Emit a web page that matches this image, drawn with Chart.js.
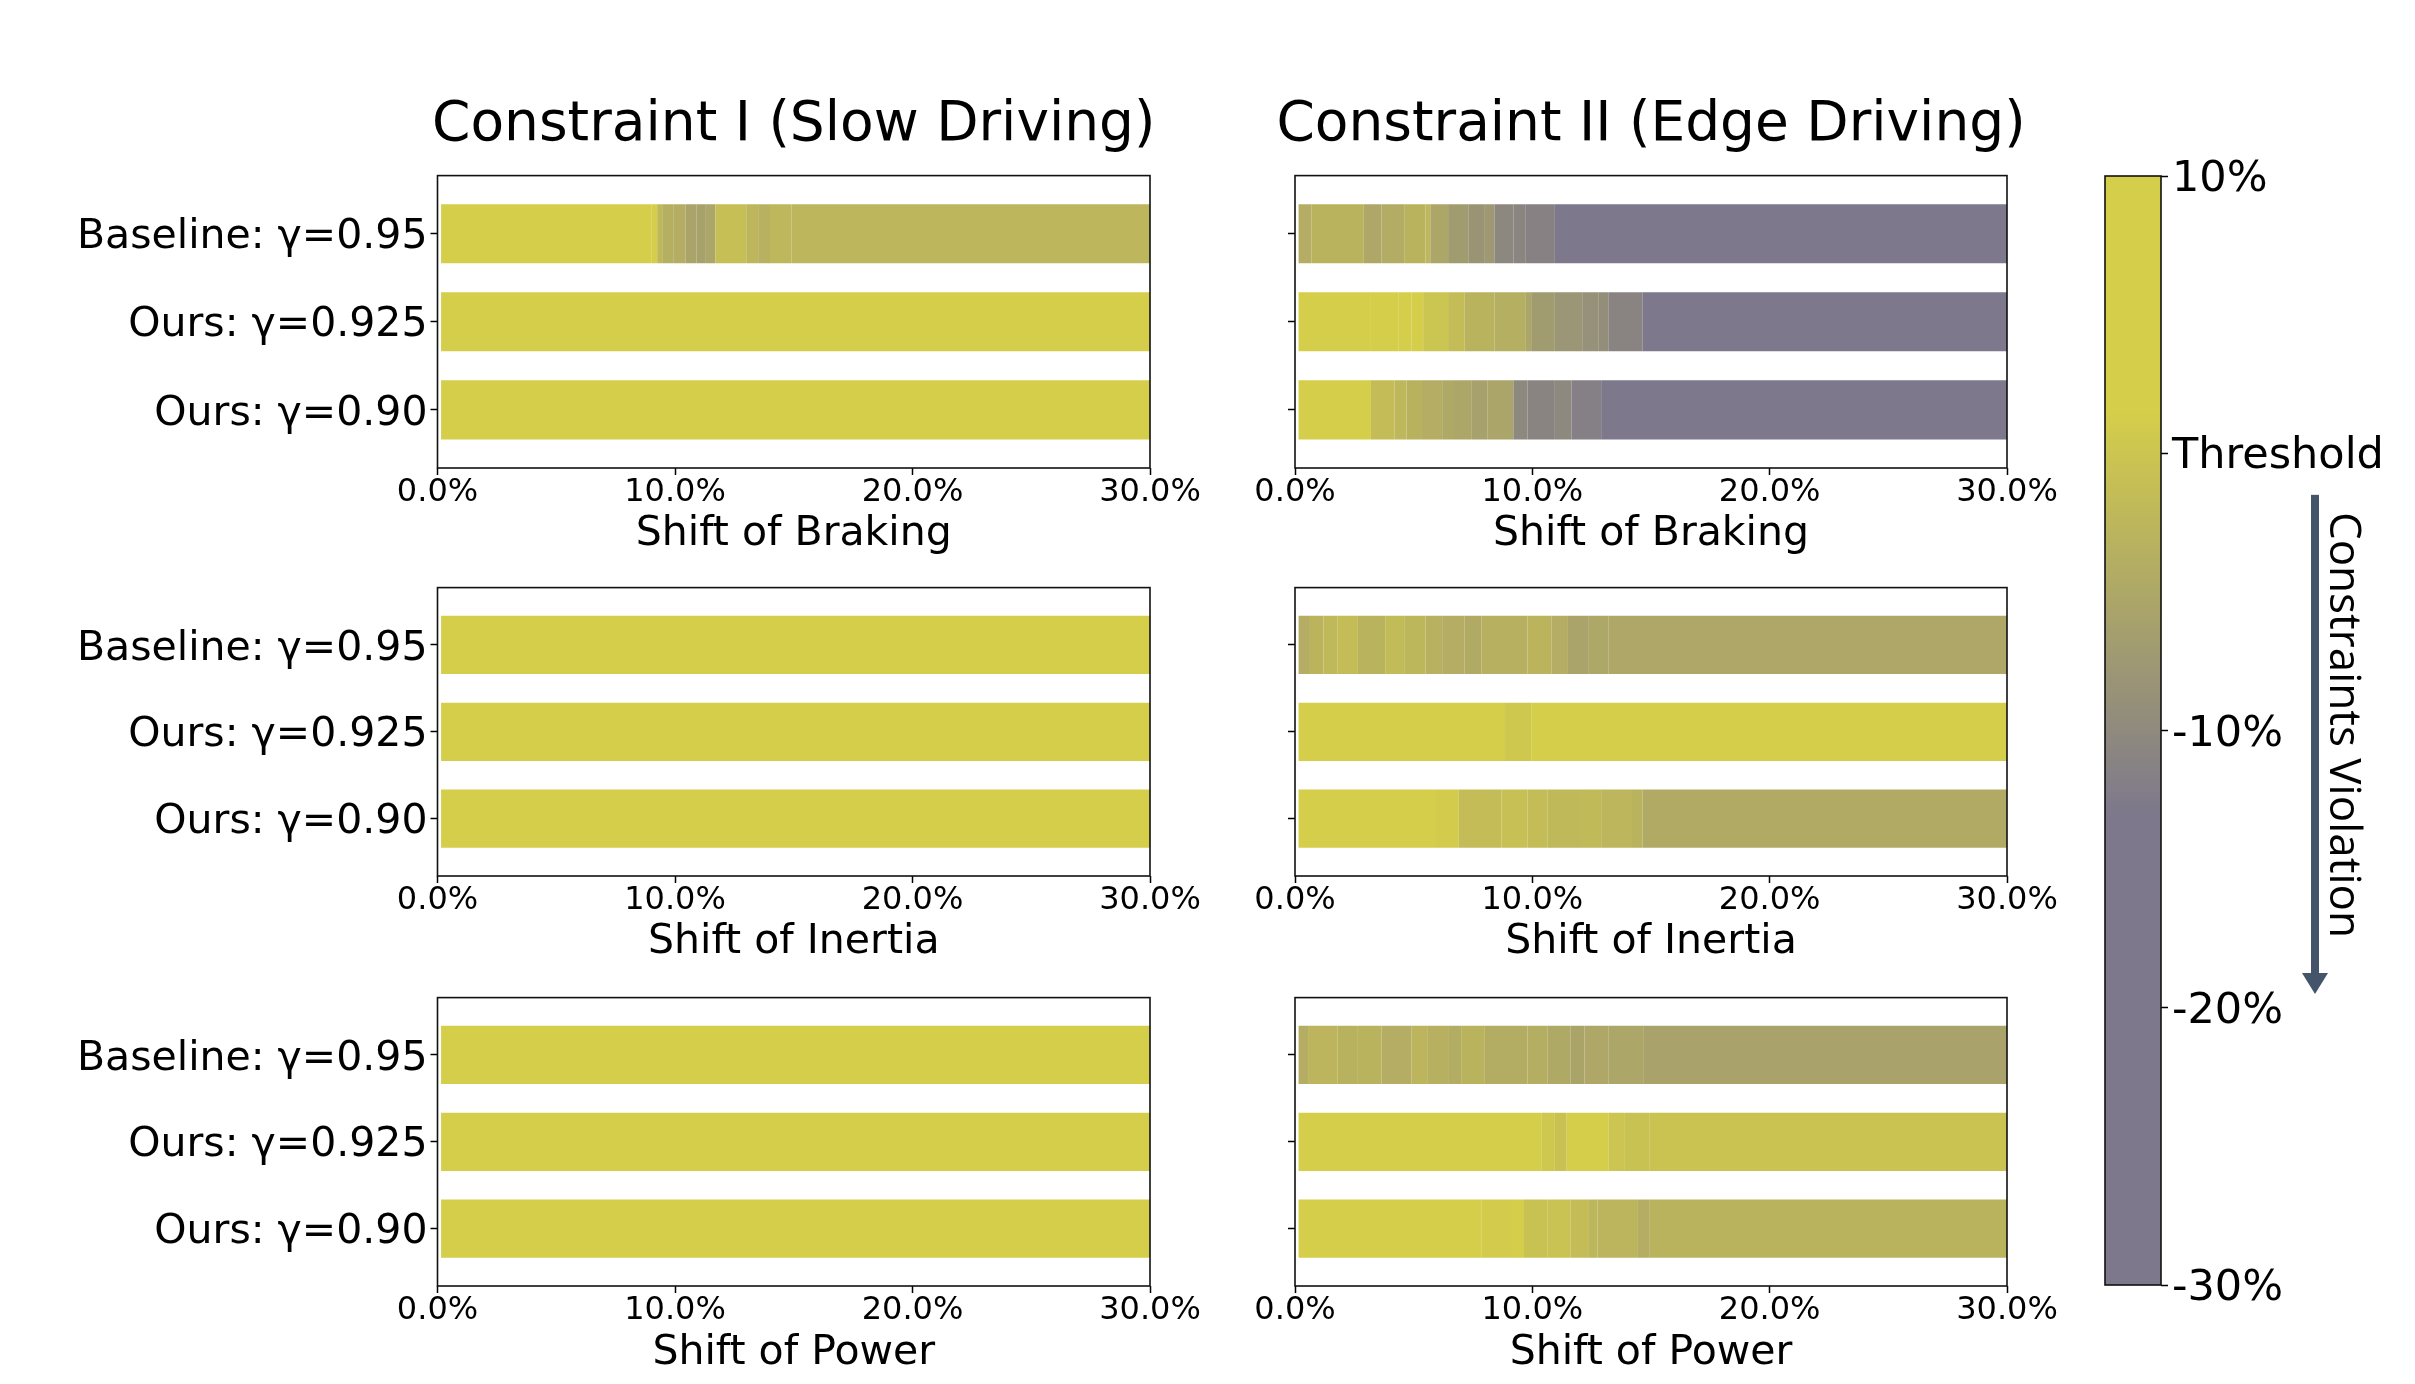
<!DOCTYPE html>
<html>
<head>
<meta charset="utf-8">
<script src="https://cdn.jsdelivr.net/npm/chart.js@4"></script>
<style>
  html, body { margin: 0; padding: 0; background: #fff; }
  body { width: 2415px; height: 1384px; position: relative; overflow: hidden; }
  canvas { position: absolute; }
</style>
</head>
<body>
<canvas id="slowBraking" width="1220" height="560" style="left:0;top:0"></canvas>
<canvas id="edgeBraking" width="850" height="560" style="left:1220px;top:0"></canvas>
<canvas id="slowInertia" width="1220" height="410" style="left:0;top:560px"></canvas>
<canvas id="edgeInertia" width="850" height="410" style="left:1220px;top:560px"></canvas>
<canvas id="slowPower" width="1220" height="414" style="left:0;top:970px"></canvas>
<canvas id="edgePower" width="850" height="414" style="left:1220px;top:970px"></canvas>
<canvas id="colorbar" width="355" height="1384" style="left:2060px;top:0"></canvas>
<script>
// Row labels (top to bottom) and shift ticks
const rowLabels = ['Baseline: γ=0.95', 'Ours: γ=0.925', 'Ours: γ=0.90'];
const shiftTicks = [0, 10, 20, 30];
const colorbarTicks = [10, 0, -10, -20, -30];
const colorbarLabels = ['10%', 'Threshold', '-10%', '-20%', '-30%'];

// Each row: [shiftFrom, shiftTo, violation %] segments
const slowBraking = [
  [[0.15, 9, 4], [9, 9.25, 3], [9.25, 9.46, -2.2], [9.46, 9.95, -3.7], [9.95, 10.45, -4], [10.45, 10.9, -5.6],
   [10.9, 11.3, -6], [11.3, 11.7, -5.3], [11.7, 13, -1], [13, 13.5, -2.5], [13.5, 14, -3.3], [14, 14.9, -2.3], [14.9, 30, -2.5]],
  [[0.15, 30, 4]],
  [[0.15, 30, 4]]
];
const edgeBraking = [
  [[0.15, 0.7, -4], [0.7, 2.9, -3], [2.9, 3.65, -5], [3.65, 4.6, -4.3], [4.6, 5.5, -3], [5.5, 5.7, -2.3], [5.7, 6.45, -5.3],
   [6.45, 7.3, -7], [7.3, 8, -8.2], [8, 8.4, -7.6], [8.4, 9.2, -10.3], [9.2, 9.7, -10.8], [9.7, 10.95, -11.4], [10.95, 30, -16]],
  [[0.15, 3.2, 4], [3.2, 4.35, 2], [4.35, 4.9, 1.5], [4.9, 5.4, 4], [5.4, 6.45, -0.1], [6.45, 7.15, -1.5], [7.15, 8.4, -3],
   [8.4, 9.7, -3.8], [9.7, 9.95, -5.2], [9.95, 10.95, -7], [10.95, 12.1, -8], [12.1, 12.8, -8.8], [12.8, 13.2, -9.3],
   [13.2, 14.65, -11], [14.65, 30, -16]],
  [[0.15, 3.2, 4], [3.2, 4.2, -1.3], [4.2, 4.7, -2.3], [4.7, 5.35, -3.2], [5.35, 6.2, -4], [6.2, 6.7, -4.8], [6.7, 7.45, -5.2],
   [7.45, 8.1, -6], [8.1, 9.2, -5.4], [9.2, 9.8, -10.2], [9.8, 10.95, -11], [10.95, 11.65, -10.2], [11.65, 12.9, -11.6], [12.9, 30, -16]]
];
const slowInertia = [
  [[0.15, 30, 4]],
  [[0.15, 30, 4]],
  [[0.15, 30, 4]]
];
const edgeInertia = [
  [[0.15, 0.63, -4], [0.63, 1.2, -2.8], [1.2, 1.8, -2], [1.8, 2.65, -1.5], [2.65, 3.8, -3], [3.8, 4.6, -1.6], [4.6, 5.5, -2.4],
   [5.5, 6.2, -3.4], [6.2, 7.15, -4], [7.15, 7.85, -4.6], [7.85, 9.8, -3.5], [9.8, 10.8, -2.8], [10.8, 11.5, -4],
   [11.5, 12.35, -5.6], [12.35, 13.2, -5.1], [13.2, 30, -5]],
  [[0.15, 8.85, 4], [8.85, 9.95, 0.5], [9.95, 30, 4]],
  [[0.15, 5.9, 4], [5.9, 6.9, 1], [6.9, 8.7, -1.3], [8.7, 9.8, -0.9], [9.8, 10.65, -1.3], [10.65, 12.05, -2.1],
   [12.05, 12.9, -1.9], [12.9, 14.2, -2.5], [14.2, 14.65, -3], [14.65, 30, -4.5]]
];
const slowPower = [
  [[0.15, 30, 4]],
  [[0.15, 30, 4]],
  [[0.15, 30, 4]]
];
const edgePower = [
  [[0.15, 0.55, -4], [0.55, 1.8, -2.7], [1.8, 2.65, -3.2], [2.65, 3.65, -3], [3.65, 4.9, -4], [4.9, 5.6, -2.7], [5.6, 6.45, -3.5],
   [6.45, 7, -4.1], [7, 8, -3], [8, 9.8, -4.1], [9.8, 10.65, -3.9], [10.65, 11.6, -4.8], [11.6, 12.2, -5.5], [12.2, 13.2, -5],
   [13.2, 14.7, -5.3], [14.7, 30, -5.8]],
  [[0.15, 10.4, 4], [10.4, 10.95, 0.5], [10.95, 11.45, -0.5], [11.45, 13.2, 4], [13.2, 13.9, 0], [13.9, 14.95, -0.6], [14.95, 30, -0.3]],
  [[0.15, 7.85, 4], [7.85, 9.1, 1], [9.1, 9.65, 4], [9.65, 10.65, -0.6], [10.65, 11.6, -0.4], [11.6, 12.35, -1.3],
   [12.35, 12.75, -2.4], [12.75, 14.45, -2.7], [14.45, 14.95, -4], [14.95, 30, -3]]
];

// Colormap: yellow above ~1.5%, purple below ~-13%, linear in between
const YELLOW = [213, 206, 74];
const PURPLE = [125, 120, 139];
const CMAP_HI = 1.5;
const CMAP_LO = -13;

function colorFor(v) {
  let t = (CMAP_HI - v) / (CMAP_HI - CMAP_LO);
  t = Math.max(0, Math.min(1, t));
  const c = YELLOW.map((y, i) => Math.round(y + (PURPLE[i] - y) * t));
  return `rgb(${c[0]}, ${c[1]}, ${c[2]})`;
}

Chart.defaults.font.family = '"DejaVu Sans", sans-serif';
Chart.defaults.color = '#000';

// Black box around every plot area
const framePlugin = {
  id: 'frame',
  afterDatasetsDraw(chart) {
    const { ctx, chartArea: a } = chart;
    ctx.save();
    ctx.strokeStyle = '#111';
    ctx.lineWidth = 1.6;
    ctx.strokeRect(a.left, a.top, a.right - a.left, a.bottom - a.top);
    ctx.restore();
  }
};

// Column title centred over the plot area
const titlePlugin = {
  id: 'panelTitle',
  afterDraw(chart, args, opts) {
    if (!opts.text) return;
    const { ctx, chartArea: a } = chart;
    ctx.save();
    ctx.font = '55px "DejaVu Sans"';
    ctx.fillStyle = '#000';
    ctx.textAlign = 'center';
    ctx.textBaseline = 'middle';
    ctx.fillText(opts.text, (a.left + a.right) / 2, a.top - 50);
    ctx.restore();
  }
};

function initPanel(id, rows, o) {
  const canvas = document.getElementById(id);
  if (!canvas) return;

  const cells = [];
  rows.forEach((segments, row) => {
    segments.forEach(([from, to, v]) => cells.push({ x: [from, to], y: row, v: v }));
  });

  new Chart(canvas, {
    type: 'bar',
    data: {
      datasets: [{
        data: cells,
        backgroundColor: (c) => c.raw ? colorFor(c.raw.v) : colorFor(4),
        borderWidth: 0,
        barPercentage: 0.67,
        categoryPercentage: 1
      }]
    },
    options: {
      indexAxis: 'y',
      responsive: false,
      animation: false,
      layout: {
        padding: { left: 0, top: o.padTop, right: o.padRight, bottom: 0 }
      },
      plugins: {
        legend: { display: false },
        tooltip: { enabled: false },
        panelTitle: { text: o.title || '' }
      },
      scales: {
        x: {
          type: 'linear',
          min: 0,
          max: 30,
          afterBuildTicks: (s) => { s.ticks = shiftTicks.map(v => ({ value: v })); },
          afterFit: (s) => { s.height = o.xAxisH; },
          border: { display: false },
          grid: { drawOnChartArea: false, drawTicks: true, tickLength: 7, tickWidth: 1.5, tickColor: '#000' },
          ticks: {
            maxRotation: 0,
            autoSkip: false,
            padding: 2,
            font: { size: 32, lineHeight: 1 },
            callback: (v) => v.toFixed(1) + '%'
          },
          title: {
            display: true,
            text: o.xTitle,
            font: { size: 41, lineHeight: 1.2 },
            padding: { top: 0, bottom: o.xTitlePad }
          }
        },
        y: {
          type: 'linear',
          min: -0.66,
          max: 2.66,
          reverse: true,
          offset: false,
          afterBuildTicks: (s) => { s.ticks = rowLabels.map((l, i) => ({ value: i })); },
          afterFit: (s) => { s.width = o.yAxisW; },
          border: { display: false },
          grid: { offset: false, drawOnChartArea: false, drawTicks: true, tickLength: 7, tickWidth: 1.5, tickColor: '#000' },
          ticks: {
            padding: 3,
            labelOffset: 4,
            font: { size: 41 },
            callback: (v) => o.labels ? rowLabels[v] : ''
          }
        }
      }
    },
    plugins: [framePlugin, titlePlugin]
  });
}

// Colorbar with threshold ticks plus the "Constraints Violation" arrow
const violationPlugin = {
  id: 'violation',
  afterDraw(chart) {
    const { ctx, chartArea: a, scales: { y } } = chart;
    const ax = a.right + 154;
    const y0 = y.getPixelForValue(-1.5);
    const tip = y.getPixelForValue(-19.5);
    ctx.save();
    ctx.fillStyle = '#44546a';
    ctx.fillRect(ax - 4, y0, 8, tip - y0 - 20);
    ctx.beginPath();
    ctx.moveTo(ax - 13, tip - 21);
    ctx.lineTo(ax + 13, tip - 21);
    ctx.lineTo(ax, tip);
    ctx.closePath();
    ctx.fill();

    ctx.translate(a.right + 182, y.getPixelForValue(-9.8));
    ctx.rotate(Math.PI / 2);
    ctx.fillStyle = '#000';
    ctx.font = '44px "Open Sans"';
    ctx.textAlign = 'center';
    ctx.textBaseline = 'middle';
    ctx.fillText('Constraints Violation', 0, 0);
    ctx.restore();
  }
};

function initColorbar() {
  const canvas = document.getElementById('colorbar');
  if (!canvas) return;

  new Chart(canvas, {
    type: 'bar',
    data: {
      labels: [''],
      datasets: [{
        data: [[colorbarTicks[colorbarTicks.length - 1], colorbarTicks[0]]],
        backgroundColor: (c) => {
          const chart = c.chart;
          if (!chart.chartArea) return colorFor(4);
          const y = chart.scales.y;
          const top = y.getPixelForValue(colorbarTicks[0]);
          const bottom = y.getPixelForValue(colorbarTicks[colorbarTicks.length - 1]);
          const g = chart.ctx.createLinearGradient(0, top, 0, bottom);
          const span = colorbarTicks[0] - colorbarTicks[colorbarTicks.length - 1];
          g.addColorStop(0, colorFor(CMAP_HI));
          g.addColorStop((colorbarTicks[0] - CMAP_HI) / span, colorFor(CMAP_HI));
          g.addColorStop((colorbarTicks[0] - (CMAP_HI + CMAP_LO) / 2) / span, colorFor((CMAP_HI + CMAP_LO) / 2));
          g.addColorStop((colorbarTicks[0] - CMAP_LO) / span, colorFor(CMAP_LO));
          g.addColorStop(1, colorFor(CMAP_LO));
          return g;
        },
        borderWidth: 0,
        barPercentage: 1,
        categoryPercentage: 1
      }]
    },
    options: {
      responsive: false,
      animation: false,
      layout: { padding: { left: 45, top: 176, right: 0, bottom: 99 } },
      plugins: { legend: { display: false }, tooltip: { enabled: false } },
      scales: {
        x: { display: false },
        y: {
          type: 'linear',
          position: 'right',
          min: -30,
          max: 10,
          afterBuildTicks: (s) => { s.ticks = colorbarTicks.map(v => ({ value: v })); },
          afterFit: (s) => { s.width = 254; },
          border: { display: false },
          grid: { drawOnChartArea: false, drawTicks: true, tickLength: 7, tickWidth: 1.5, tickColor: '#000' },
          ticks: {
            padding: 4,
            labelOffset: 4,
            font: { size: 43 },
            callback: (v) => colorbarLabels[colorbarTicks.indexOf(v)]
          }
        }
      }
    },
    plugins: [framePlugin, violationPlugin]
  });
}

const leftCol = { yAxisW: 437.5, padRight: 70, labels: true };
const rightCol = { yAxisW: 75, padRight: 63, labels: false };
const row1 = { padTop: 175.6, xAxisH: 92, xTitlePad: 1.5 };
const row2 = { padTop: 25, xAxisH: 94, xTitlePad: 3 };
const row3 = { padTop: 25, xAxisH: 98, xTitlePad: 6.5 };

initPanel('slowBraking', slowBraking, { ...leftCol, ...row1, xTitle: 'Shift of Braking', title: 'Constraint I (Slow Driving)' });
initPanel('edgeBraking', edgeBraking, { ...rightCol, ...row1, xTitle: 'Shift of Braking', title: 'Constraint II (Edge Driving)' });
initPanel('slowInertia', slowInertia, { ...leftCol, ...row2, xTitle: 'Shift of Inertia' });
initPanel('edgeInertia', edgeInertia, { ...rightCol, ...row2, xTitle: 'Shift of Inertia' });
initPanel('slowPower', slowPower, { ...leftCol, ...row3, xTitle: 'Shift of Power' });
initPanel('edgePower', edgePower, { ...rightCol, ...row3, xTitle: 'Shift of Power' });
initColorbar();
</script>
</body>
</html>
